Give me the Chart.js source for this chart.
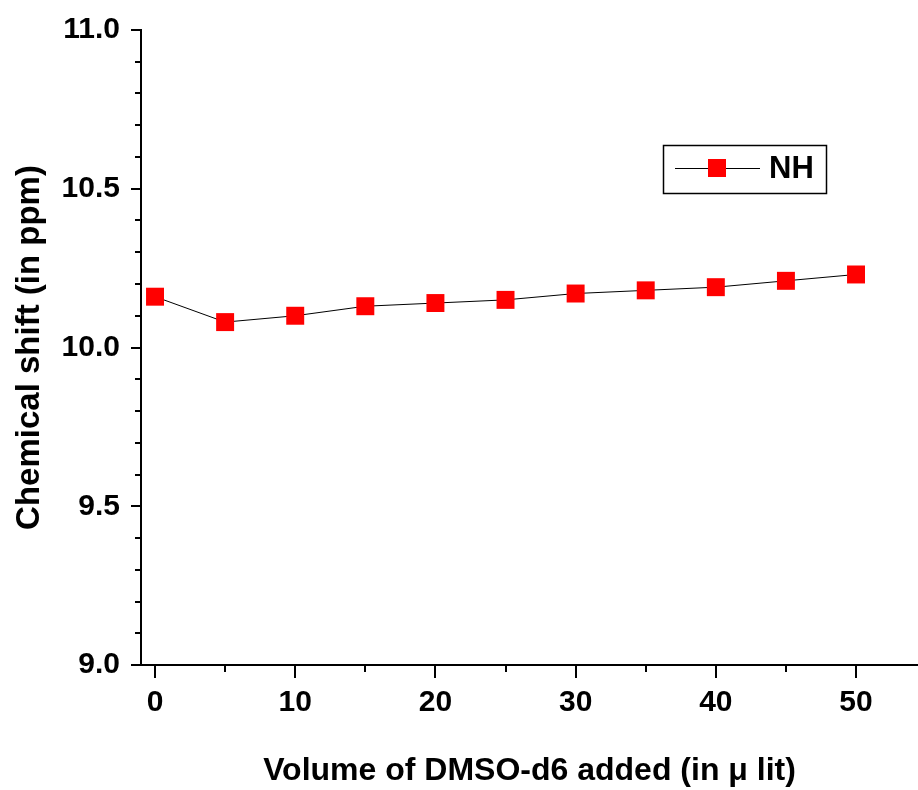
<!DOCTYPE html>
<html>
<head>
<meta charset="utf-8">
<script src="https://cdn.jsdelivr.net/npm/chart.js@4"></script>
<style>
  html, body { margin: 0; padding: 0; background: #fff; }
  #wrap { width: 918px; height: 790px; }
</style>
</head>
<body>
<div id="wrap"><canvas id="shiftChart" width="918" height="790"></canvas></div>
<script>
// datos
const volumes = [0, 5, 10, 15, 20, 25, 30, 35, 40, 45, 50];
const nhShift = [10.16, 10.08, 10.10, 10.13, 10.14, 10.15, 10.17, 10.18, 10.19, 10.21, 10.23];
const xMajorTicks = [0, 10, 20, 30, 40, 50];
const xMinorTicks = [5, 15, 25, 35, 45];
const yMajorTicks = [9.0, 9.5, 10.0, 10.5, 11.0];
const yMinorTicks = [9.1, 9.2, 9.3, 9.4, 9.6, 9.7, 9.8, 9.9, 10.1, 10.2, 10.3, 10.4, 10.6, 10.7, 10.8, 10.9];

const FONT = 'Liberation Sans, Arial, sans-serif';

// marcas de eje estilo Origin (mayores y menores, hacia fuera)
const tickMarks = {
  id: 'tickMarks',
  afterDraw(chart) {
    const ctx = chart.ctx;
    const x = chart.scales.x, y = chart.scales.y;
    const area = chart.chartArea;
    ctx.save();
    ctx.strokeStyle = '#000';
    ctx.lineWidth = 2;
    ctx.beginPath();
    yMajorTicks.forEach(v => { const p = Math.round(y.getPixelForValue(v)); ctx.moveTo(area.left - 10, p); ctx.lineTo(area.left, p); });
    yMinorTicks.forEach(v => { const p = Math.round(y.getPixelForValue(v)); ctx.moveTo(area.left - 6, p); ctx.lineTo(area.left, p); });
    xMajorTicks.forEach(v => { const p = Math.round(x.getPixelForValue(v)); ctx.moveTo(p, area.bottom); ctx.lineTo(p, area.bottom + 13); });
    xMinorTicks.forEach(v => { const p = Math.round(x.getPixelForValue(v)); ctx.moveTo(p, area.bottom); ctx.lineTo(p, area.bottom + 7); });
    ctx.stroke();
    ctx.restore();
  }
};

// leyenda con linea y marcador
const boxLegend = {
  id: 'boxLegend',
  afterDraw(chart) {
    const ctx = chart.ctx;
    const ds = chart.data.datasets[0];
    ctx.save();
    ctx.strokeStyle = '#000';
    ctx.lineWidth = 1.5;
    ctx.strokeRect(663.5, 145.5, 163, 48);
    ctx.lineWidth = 1;
    ctx.beginPath();
    ctx.moveTo(675, 168.5);
    ctx.lineTo(760, 168.5);
    ctx.stroke();
    ctx.fillStyle = ds.pointBackgroundColor;
    ctx.fillRect(708, 159, 18, 18);
    ctx.fillStyle = '#000';
    ctx.font = 'bold 31px ' + FONT;
    ctx.textBaseline = 'middle';
    ctx.fillText(ds.label, 769, 169);
    ctx.restore();
  }
};

new Chart(document.getElementById('shiftChart').getContext('2d'), {
  type: 'line',
  data: {
    labels: volumes,
    datasets: [{
      label: 'NH',
      data: volumes.map((v, i) => ({ x: v, y: nhShift[i] })),
      borderColor: '#000',
      borderWidth: 1,
      pointStyle: 'rect',
      pointRadius: 12.7,
      pointBackgroundColor: '#ff0000',
      pointBorderColor: '#ff0000',
      pointBorderWidth: 0,
      tension: 0
    }]
  },
  options: {
    responsive: false,
    animation: false,
    layout: { autoPadding: false, padding: { top: 30, right: 0, left: 0, bottom: 0 } },
    plugins: { legend: { display: false }, tooltip: { enabled: false } },
    scales: {
      x: {
        type: 'linear',
        min: -1,
        max: 54.42,
        afterFit(scale) { scale.height = 125; scale.paddingRight = 0; scale.paddingLeft = 0; },
        afterBuildTicks(scale) { scale.ticks = xMajorTicks.map(v => ({ value: v })); },
        grid: { display: false, drawTicks: false },
        border: { display: true, color: '#000', width: 2 },
        ticks: {
          color: '#000',
          font: { family: FONT, size: 30, weight: 'bold' },
          padding: 20,
          maxRotation: 0
        },
        title: {
          display: true,
          text: 'Volume of DMSO-d6 added (in \u03bc lit)',
          color: '#000',
          font: { family: FONT, size: 32, weight: 'bold' },
          padding: { top: 0, bottom: 0 }
        }
      },
      y: {
        min: 9.0,
        max: 11.0,
        afterFit(scale) { scale.width = 141; scale.paddingTop = 0; scale.paddingBottom = 0; },
        afterBuildTicks(scale) { scale.ticks = yMajorTicks.map(v => ({ value: v })); },
        grid: { display: false, drawTicks: false },
        border: { display: true, color: '#000', width: 2 },
        ticks: {
          color: '#000',
          font: { family: FONT, size: 30, weight: 'bold' },
          padding: 21,
          callback: v => v.toFixed(1)
        },
        title: {
          display: true,
          text: 'Chemical shift (in ppm)',
          color: '#000',
          font: { family: FONT, size: 33, weight: 'bold' },
          padding: { top: 10, bottom: 0 }
        }
      }
    }
  },
  plugins: [tickMarks, boxLegend]
});
</script>
</body>
</html>
